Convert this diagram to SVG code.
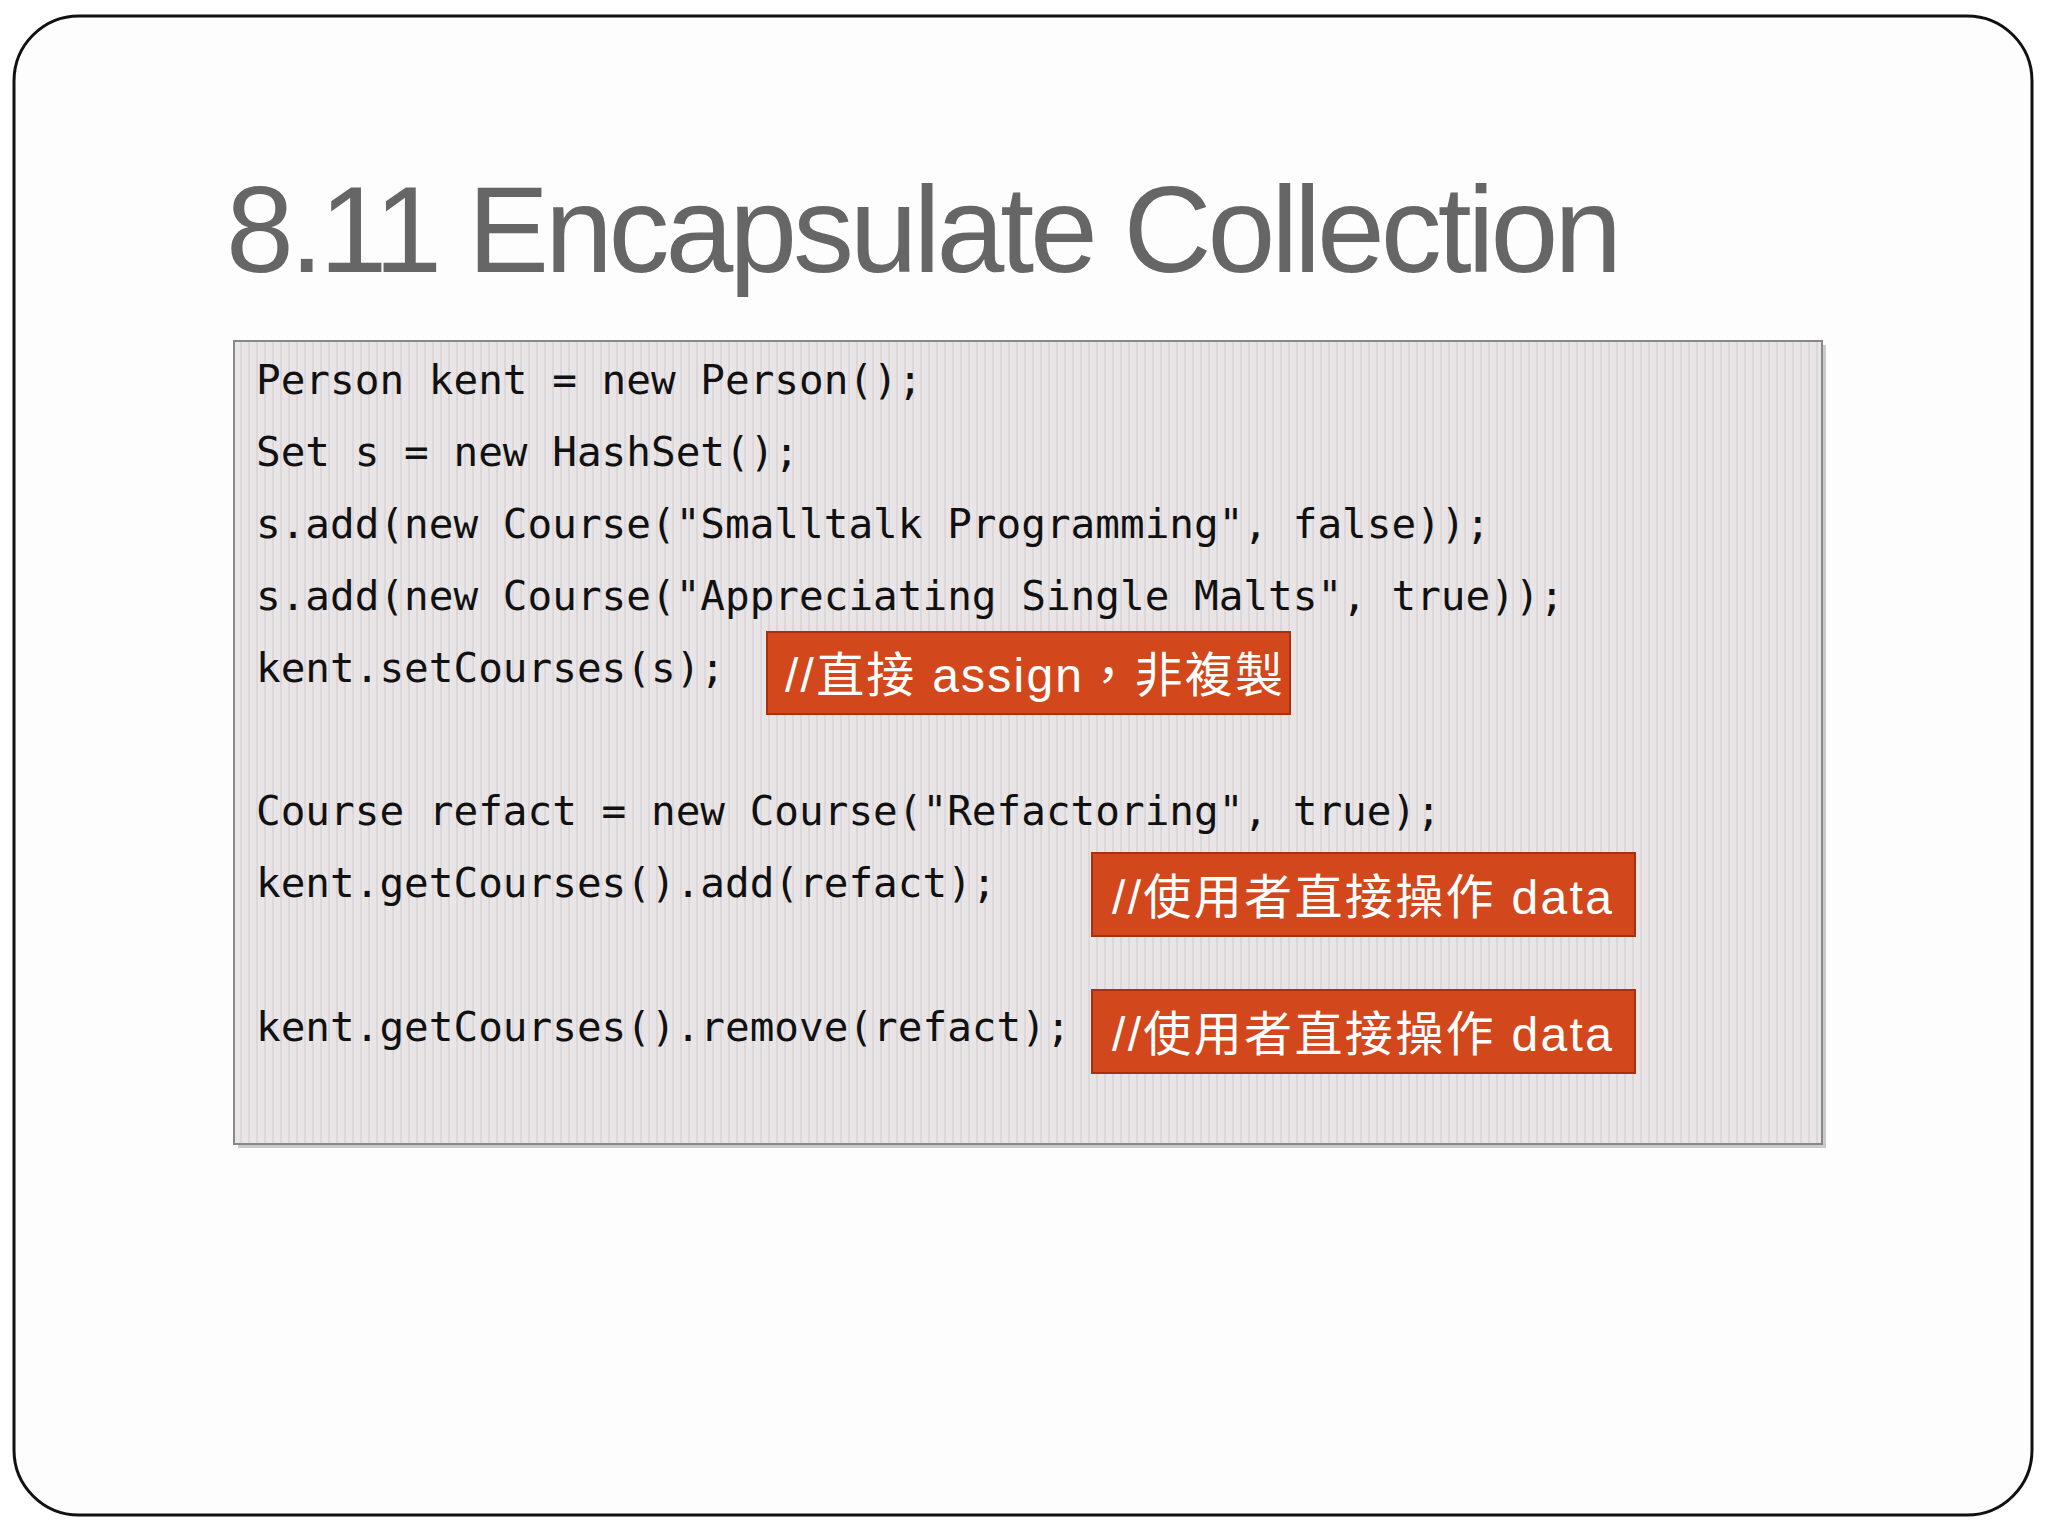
<svg xmlns="http://www.w3.org/2000/svg" width="2048" height="1536" viewBox="0 0 2048 1536">
<defs>
<pattern id="stripes" width="8" height="8" patternUnits="userSpaceOnUse">
<rect width="8" height="8" fill="#e9e5e7"/>
<rect x="0" width="2" height="8" fill="#dcd7da"/>
</pattern>
<style>
.code{font-family:"DejaVu Sans Mono","Liberation Mono",monospace;font-size:41px;fill:#111}
.note rect{fill:#d2481c;stroke:#a8300e;stroke-width:2}
.note text{font-family:"Liberation Sans","Noto Sans CJK TC",sans-serif;font-size:48px;fill:#fff}
</style>
</defs>
<rect width="2048" height="1536" fill="#fff"/>
<rect x="14" y="16" width="2018" height="1499" rx="65" fill="#fdfdfd" stroke="#111" stroke-width="3"/>
<text x="226" y="272" font-family="Liberation Sans, Arial, sans-serif" font-size="122" fill="#666" textLength="1396">8.11 Encapsulate Collection</text>
<g id="codebox">
<rect x="238" y="345" width="1588" height="803" fill="#999" opacity="0.5"/>
<rect x="234" y="341" width="1588" height="803" fill="url(#stripes)" stroke="#888" stroke-width="2"/>
<text class="code" x="256" y="394">Person kent = new Person();</text>
<text class="code" x="256" y="466">Set s = new HashSet();</text>
<text class="code" x="256" y="538">s.add(new Course("Smalltalk Programming", false));</text>
<text class="code" x="256" y="610">s.add(new Course("Appreciating Single Malts", true));</text>
<text class="code" x="256" y="682">kent.setCourses(s);</text>
<text class="code" x="256" y="825">Course refact = new Course("Refactoring", true);</text>
<text class="code" x="256" y="897">kent.getCourses().add(refact);</text>
<text class="code" x="256" y="1041">kent.getCourses().remove(refact);</text>
</g>
<g id="note1" class="note"><rect x="767" y="632" width="523" height="82"/><text x="785" y="692" textLength="498">//直接 assign，非複製</text></g>
<g id="note2" class="note"><rect x="1092" y="853" width="543" height="83"/><text x="1112" y="914" textLength="500">//使用者直接操作 data</text></g>
<g id="note3" class="note"><rect x="1092" y="990" width="543" height="83"/><text x="1112" y="1051" textLength="500">//使用者直接操作 data</text></g>
<g id="connectors"/>
</svg>
